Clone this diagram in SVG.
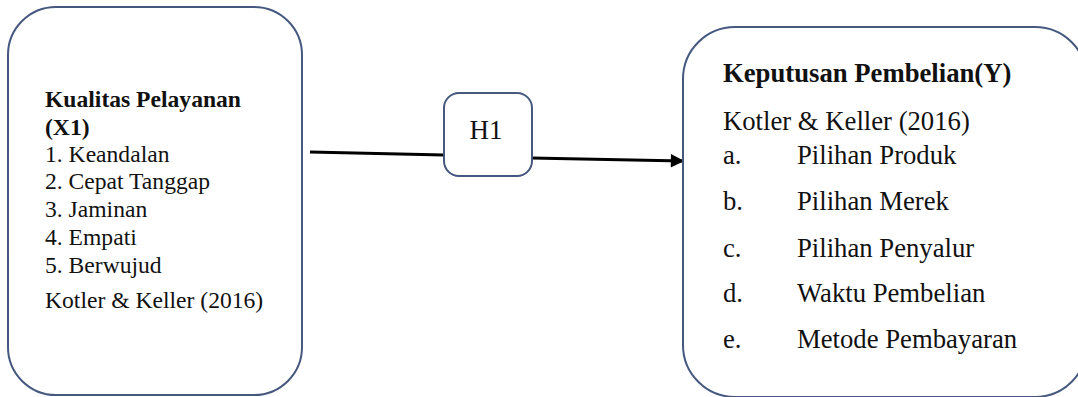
<svg xmlns="http://www.w3.org/2000/svg" width="1078" height="397" viewBox="0 0 1078 397">
<style>
.box{fill:#fff;stroke:#46587f;stroke-width:2}
.t{font-family:"Liberation Serif","Times New Roman",serif;fill:#111}
.b{font-weight:bold}
.l{font-size:23.6px}
.r{font-size:26.7px}
.conn{stroke:#000;stroke-width:3;fill:none}
</style>
<defs>
<marker id="arr" viewBox="0 0 10 10" refX="9" refY="5" markerWidth="5" markerHeight="4.5" orient="auto" markerUnits="strokeWidth">
<path d="M0,0 L10,5 L0,10 z" fill="#000"/>
</marker>
</defs>
<rect width="1078" height="397" fill="#fff"/>
<g id="connectors">
<line class="conn" x1="310" y1="152" x2="444" y2="155"/>
<line class="conn" x1="531" y1="158" x2="683" y2="161" marker-end="url(#arr)"/>
</g>
<g id="x1">
<rect class="box" x="8" y="7" width="294" height="388" rx="48" ry="48"/>
<text class="t l b" x="45" y="107">Kualitas Pelayanan</text>
<text class="t l b" x="45" y="135">(X1)</text>
<text class="t l" x="45" y="162">1. Keandalan</text>
<text class="t l" x="45" y="189">2. Cepat Tanggap</text>
<text class="t l" x="45" y="217">3. Jaminan</text>
<text class="t l" x="45" y="245">4. Empati</text>
<text class="t l" x="45" y="273">5. Berwujud</text>
<text class="t l" x="45" y="308">Kotler &amp; Keller (2016)</text>
</g>
<g id="h1">
<rect class="box" x="444" y="93" width="88" height="83" rx="15" ry="15"/>
<text class="t" x="486" y="139" font-size="27" text-anchor="middle">H1</text>
</g>
<g id="y">
<rect class="box" x="683" y="27" width="404" height="370" rx="52" ry="52"/>
<text class="t r b" x="723" y="82">Keputusan Pembelian(Y)</text>
<text class="t r" x="723" y="130">Kotler &amp; Keller (2016)</text>
<text class="t r" x="723" y="164">a.</text>
<text class="t r" x="797" y="164">Pilihan Produk</text>
<text class="t r" x="723" y="210">b.</text>
<text class="t r" x="797" y="210">Pilihan Merek</text>
<text class="t r" x="723" y="257">c.</text>
<text class="t r" x="797" y="257">Pilihan Penyalur</text>
<text class="t r" x="723" y="302">d.</text>
<text class="t r" x="797" y="302">Waktu Pembelian</text>
<text class="t r" x="723" y="348">e.</text>
<text class="t r" x="797" y="348">Metode Pembayaran</text>
</g>
</svg>
